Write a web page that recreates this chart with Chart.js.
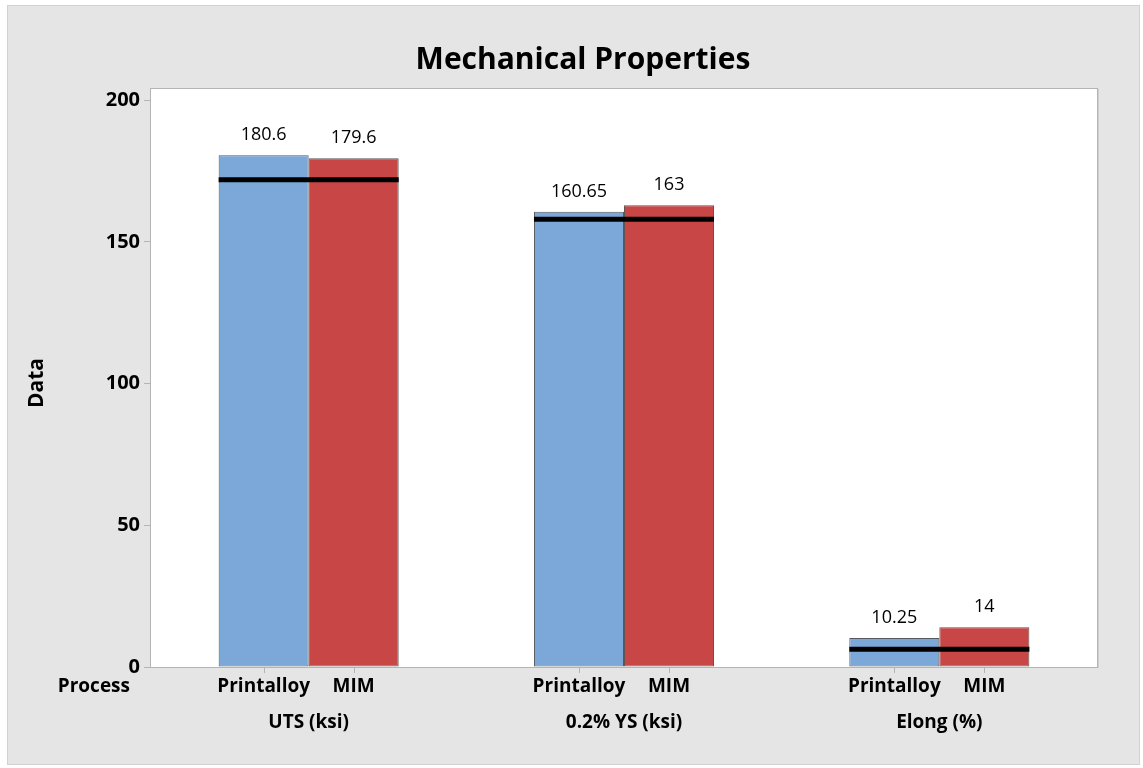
<!DOCTYPE html>
<html>
<head>
<meta charset="utf-8">
<script src="https://cdn.jsdelivr.net/npm/chart.js@4"></script>
<style>
   body { margin: 0; background: #fff; }
   #wrap { width: 1143px; height: 768px; }
</style>
</head>
<body>
<div id="wrap"><canvas id="chart" width="1143" height="768"></canvas></div>
<script>
// Chart data
const categories = ["UTS (ksi)", "0.2% YS (ksi)", "Elong (%)"]
const processes = ["Printalloy", "MIM"]
const printalloyValues = [180.6, 160.65, 10.25]
const mimValues = [179.6, 163, 14]
const referenceValues = [172, 158, 6.3]
const yTicks = [0, 50, 100, 150, 200]

const FONT = "'Open Sans', 'Noto Sans', sans-serif"
Chart.defaults.font.family = FONT

const text = (ctx, str, x, y, size, weight, align) => {
   ctx.font = `${weight} ${size}px ${FONT}`
   ctx.textAlign = align || "center"
   ctx.textBaseline = "middle"
   ctx.fillStyle = "#000"
   ctx.fillText(str, x, y)
}

// Background, reference lines, labels
const extras = {
   id: "extras",
   beforeDraw(chart) {
      const ctx = chart.ctx
      const a = chart.chartArea
      ctx.save()
      ctx.fillStyle = "#fff"
      ctx.fillRect(0, 0, chart.width, chart.height)
      ctx.fillStyle = "#e5e5e5"
      ctx.fillRect(7, 5, 1133, 760)
      ctx.strokeStyle = "#d2d2d2"
      ctx.lineWidth = 1
      ctx.strokeRect(7.5, 5.5, 1132, 759)
      ctx.fillStyle = "#fff"
      ctx.fillRect(a.left, a.top, a.width, a.height)
      ctx.restore()
   },
   afterDatasetsDraw(chart) {
      const ctx = chart.ctx
      const y = chart.scales.y
      const first = chart.getDatasetMeta(0).data
      const second = chart.getDatasetMeta(1).data
      ctx.save()
      // reference lines across each group
      ctx.strokeStyle = "#000"
      ctx.lineWidth = 5
      referenceValues.forEach((v, i) => {
         const left = first[i].x - first[i].width / 2
         const right = second[i].x + second[i].width / 2
         const py = y.getPixelForValue(v)
         ctx.beginPath()
         ctx.moveTo(left, py)
         ctx.lineTo(right, py)
         ctx.stroke()
      })
      // value labels
      chart.data.datasets.forEach((ds, d) => {
         chart.getDatasetMeta(d).data.forEach((bar, i) => {
            text(ctx, String(ds.data[i]), bar.x, bar.y - 20, 18, "normal")
         })
      })
      ctx.restore()
   },
   afterDraw(chart) {
      const ctx = chart.ctx
      const a = chart.chartArea
      const x = chart.scales.x
      ctx.save()
      // plot frame
      ctx.strokeStyle = "#b4b4b4"
      ctx.lineWidth = 1
      ctx.strokeRect(a.left - 0.5, a.top - 0.5, a.width + 1, a.height + 1)
      ctx.strokeStyle = "#cfcfcf"
      ctx.beginPath()
      ctx.moveTo(a.right + 1.5, a.top)
      ctx.lineTo(a.right + 1.5, a.bottom + 1)
      ctx.stroke()
      // x tick marks and process labels
      ctx.strokeStyle = "#b4b4b4"
      chart.data.datasets.forEach((ds, d) => {
         chart.getDatasetMeta(d).data.forEach(bar => {
            ctx.beginPath()
            ctx.moveTo(Math.round(bar.x) + 0.5, a.bottom)
            ctx.lineTo(Math.round(bar.x) + 0.5, a.bottom + 6)
            ctx.stroke()
            text(ctx, ds.label, bar.x, 687, 19, "bold")
         })
      })
      categories.forEach((c, i) => {
         text(ctx, c, x.getPixelForValue(i), 723, 19, "bold")
      })
      text(ctx, "Process", 130, 687, 19, "bold", "right")
      // titles
      text(ctx, "Mechanical Properties", 583, 60, 30, "bold")
      ctx.translate(37, 383)
      ctx.rotate(-Math.PI / 2)
      text(ctx, "Data", 0, 0, 21, "bold")
      ctx.restore()
   },
}

const ctx = document.getElementById("chart").getContext("2d")
const chart = new Chart(ctx, {
   type: "bar",
   data: {
      labels: categories,
      datasets: [
         {
            label: processes[0],
            data: printalloyValues,
            backgroundColor: "#7ca7d9",
            borderColor: "#55595f",
            borderWidth: 1,
            borderSkipped: false,
         },
         {
            label: processes[1],
            data: mimValues,
            backgroundColor: "#c84646",
            borderColor: "#5f5555",
            borderWidth: 1,
            borderSkipped: false,
         },
      ],
   },
   options: {
      responsive: false,
      animation: false,
      categoryPercentage: 0.571,
      barPercentage: 1,
      layout: { padding: { top: 89, right: 46, bottom: 101, left: 0 } },
      plugins: {
         legend: { display: false },
         title: { display: false },
         tooltip: { enabled: false },
      },
      scales: {
         x: { display: false },
         y: {
            min: 0,
            max: 204,
            afterFit: scale => { scale.width = 151 },
            afterBuildTicks: scale => {
               scale.ticks = yTicks.map(v => ({ value: v }))
            },
            border: { display: false },
            grid: {
               drawOnChartArea: false,
               drawTicks: true,
               tickLength: 7,
               color: "#b4b4b4",
            },
            ticks: {
               padding: 4,
               color: "#000",
               font: { size: 20, weight: "bold" },
            },
         },
      },
   },
   plugins: [extras],
})
</script>
</body>
</html>
